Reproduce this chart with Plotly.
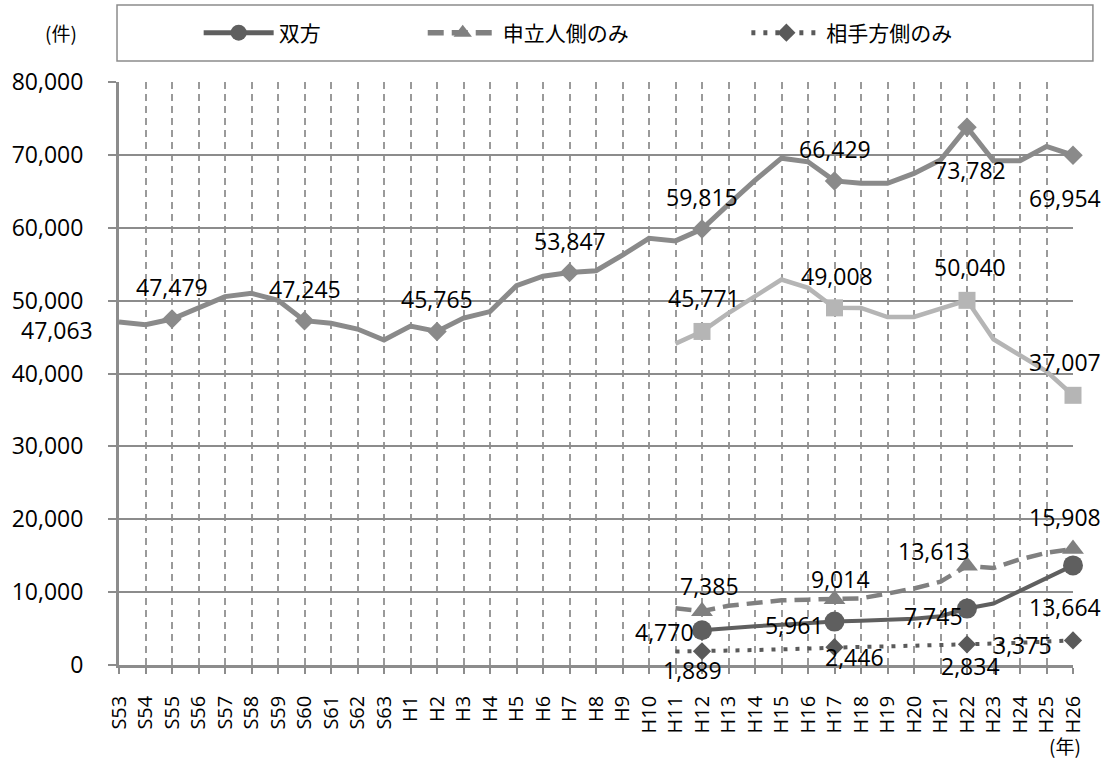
import plotly.graph_objects as go

# ---- data -------------------------------------------------------------
years = ["S53", "S54", "S55", "S56", "S57", "S58", "S59", "S60", "S61", "S62", "S63",
         "H1", "H2", "H3", "H4", "H5", "H6", "H7", "H8", "H9", "H10",
         "H11", "H12", "H13", "H14", "H15", "H16", "H17", "H18", "H19", "H20",
         "H21", "H22", "H23", "H24", "H25", "H26"]

# long-run total, S53–H26
overall = [47063, 46700, 47479, 49000, 50550, 51000, 50050, 47245, 46900, 46100, 44600,
           46500, 45765, 47600, 48500, 52050, 53350, 53847, 54100, 56250, 58550,
           58200, 59815, 63200, 66500, 69550, 69050, 66429, 66100, 66100, 67450,
           69300, 73782, 69200, 69200, 71150, 69954]

# H11–H26 series
years_recent = ["H11", "H12", "H13", "H14", "H15", "H16", "H17", "H18",
                "H19", "H20", "H21", "H22", "H23", "H24", "H25", "H26"]
overall_b = [44100, 45771, 48300, 50600, 52900, 51750, 49008, 49000,
             47750, 47750, 48850, 50040, 44700, 42500, 40300, 37007]
both = [None, 4770, 5100, 5330, 5520, 5780, 5961, 6060,
        6200, 6350, 6690, 7745, 8440, 10200, 12040, 13664]
applicant = [7800, 7385, 8130, 8500, 8880, 8970, 9014, 9150,
             9800, 10500, 11430, 13613, 13300, 14500, 15400, 15908]
respondent = [1850, 1889, 1950, 2050, 2150, 2300, 2446, 2480,
              2550, 2620, 2700, 2834, 2950, 3050, 3200, 3375]

legend_names = ["双方", "申立人側のみ", "相手方側のみ"]

# ---- styling ----------------------------------------------------------
NUM_FONT = "Open Sans"
JP_FONT = "Noto Sans CJK JP"
GRID = "#8c8c8c"

# label placement per series: category -> (dx, dy) in px, dy downward
overall_labels = {"S53": (-62, 8), "S55": (0, -32), "S60": (0, -32), "H2": (0, -32),
                  "H7": (0, -32), "H12": (0, -32), "H17": (0, -32),
                  "H22": (3, 43), "H26": (-8, 43)}
overall_markers = ["S55", "S60", "H2", "H7", "H12", "H17", "H22", "H26"]
overall_b_labels = {"H12": (2, -33), "H17": (2, -32), "H22": (3, -33), "H26": (-8, -33)}
applicant_labels = {"H12": (7, -25), "H17": (6, -20), "H22": (-33, -15), "H26": (-8, -32)}
both_labels = {"H12": (-38, 2), "H17": (-40, 3), "H22": (-34, 7), "H26": (-8, 42)}
respondent_labels = {"H12": (-10, 19), "H17": (20, 10), "H22": (3, 22), "H26": (-51, 5)}

fig = go.Figure()


def add_series(xs, ys, color, width, dash, symbol, msize, marker_cats,
               legend=None, name=None):
    fig.add_trace(go.Scatter(
        x=xs, y=ys, mode="lines", showlegend=False, hoverinfo="skip",
        line=dict(color=color, width=width, dash=dash), cliponaxis=False,
        connectgaps=False))
    lookup = dict(zip(xs, ys))
    my = [lookup[c] for c in marker_cats]
    fig.add_trace(go.Scatter(
        x=list(marker_cats), y=my, mode="markers", showlegend=False, cliponaxis=False,
        marker=dict(symbol=symbol, size=msize, color=color, line=dict(width=0))))
    if legend is not None:
        fig.add_trace(go.Scatter(
            x=[None], y=[None], mode="lines+markers", name=name, legend=legend,
            line=dict(color=color, width=width + 1, dash=dash),
            marker=dict(symbol=symbol, size=msize, color=color, line=dict(width=0))))


def add_labels(xs, ys, spec):
    lookup = dict(zip(xs, ys))
    for cat, (dx, dy) in spec.items():
        v = lookup[cat]
        fig.add_annotation(x=cat, y=v, xref="x", yref="y", text=f"{v:,}",
                           showarrow=False, xshift=dx, yshift=-dy,
                           font=dict(family=NUM_FONT, size=23, color="#000000"))


add_series(years, overall, "#8a8a8a", 5, "solid", "diamond", 15, overall_markers)
add_series(years_recent, overall_b, "#b5b5b5", 4.5, "solid", "square", 17,
           list(overall_b_labels))
add_series(years_recent, respondent, "#5a5a5a", 4, "4px,8px", "diamond", 14,
           list(respondent_labels), legend="legend3", name=legend_names[2])
add_series(years_recent, applicant, "#808080", 4.5, "16px,8px", "triangle-up", 19,
           list(applicant_labels), legend="legend2", name=legend_names[1])
add_series(years_recent, both, "#5f5f5f", 4, "solid", "circle", 20,
           list(both_labels), legend="legend", name=legend_names[0])

add_labels(years, overall, overall_labels)
add_labels(years_recent, overall_b, overall_b_labels)
add_labels(years_recent, applicant, applicant_labels)
add_labels(years_recent, both, both_labels)
add_labels(years_recent, respondent, respondent_labels)

# ---- layout -----------------------------------------------------------
L, R, T, B = 115, 37, 82, 108
W, H = 1110, 773
pw, ph = W - L - R, H - T - B


def px_x(p):
    return (p - L) / pw


def px_y(p):
    return (H - B - p) / ph


ytick_vals = [0, 10000, 20000, 30000, 40000, 50000, 60000, 70000, 80000]

legend_common = dict(orientation="h", xanchor="left", yanchor="middle",
                     bgcolor="rgba(0,0,0,0)", borderwidth=0, itemwidth=70,
                     font=dict(family=JP_FONT, size=21, color="#000000"))

fig.update_layout(
    width=W, height=H, autosize=False,
    margin=dict(l=L, r=R, t=T, b=B),
    paper_bgcolor="white", plot_bgcolor="white",
    font=dict(family=NUM_FONT, color="#000000"),
    xaxis=dict(type="category", categoryorder="array", categoryarray=years,
               range=[0, len(years) - 1], tickmode="array", tickvals=years,
               ticktext=years, tickangle=-90,
               tickfont=dict(family=NUM_FONT, size=20, color="#000000"),
               showgrid=True, gridcolor="#9a9a9a", gridwidth=1.5, griddash="7px,5px",
               showline=True, linecolor=GRID, linewidth=2.5,
               ticks="outside", ticklen=6, tickcolor=GRID, tickwidth=2,
               ticklabelstandoff=14, zeroline=False, fixedrange=True),
    yaxis=dict(range=[0, 80000], tickmode="array", tickvals=ytick_vals,
               ticktext=[f"{v:,}" for v in ytick_vals],
               tickfont=dict(family=NUM_FONT, size=23, color="#000000"),
               showgrid=True, gridcolor=GRID, gridwidth=1.5,
               showline=True, linecolor=GRID, linewidth=3,
               ticks="outside", ticklen=8, tickcolor=GRID, tickwidth=1.5,
               ticklabelstandoff=20, zeroline=False, fixedrange=True),
    legend=dict(x=px_x(195), y=px_y(33), **legend_common),
    legend2=dict(x=px_x(420), y=px_y(33), **legend_common),
    legend3=dict(x=px_x(745), y=px_y(33), **legend_common),
    shapes=[dict(type="rect", xref="paper", yref="paper",
                 x0=px_x(113), x1=px_x(1093), y0=px_y(61), y1=px_y(5),
                 line=dict(color=GRID, width=1.5), fillcolor="rgba(0,0,0,0)")],
    annotations=list(fig.layout.annotations) + [
        dict(text="(件)", xref="paper", yref="paper", x=px_x(57), y=px_y(33),
             showarrow=False, xanchor="center", yanchor="middle",
             font=dict(family=JP_FONT, size=19, color="#000000")),
        dict(text="(年)", xref="paper", yref="paper", x=px_x(1065), y=px_y(745),
             showarrow=False, xanchor="center", yanchor="middle",
             font=dict(family=JP_FONT, size=19, color="#000000")),
    ],
)

fig.write_html("out.html")
